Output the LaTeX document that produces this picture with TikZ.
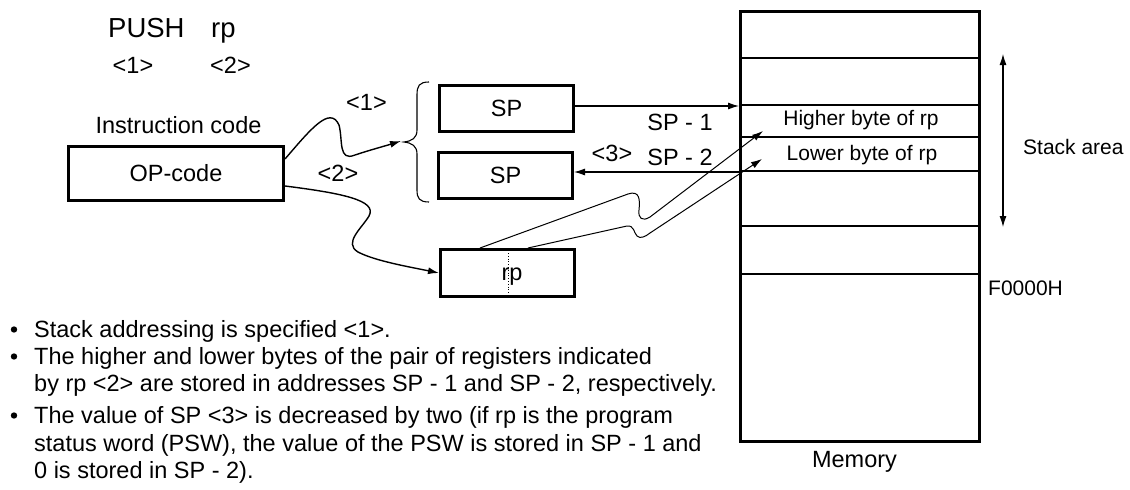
\documentclass[tikz,border=0pt]{standalone}
\usepackage{fontspec}
\setmainfont{Liberation Sans}
\usetikzlibrary{arrows.meta,calc}
\begin{document}
\begin{tikzpicture}[x=1pt,y=-1pt,
  box/.style={draw,line width=3pt,inner sep=0pt,font=\fontsize{23.5}{28}\selectfont},
  lbl/.style={inner sep=0pt,font=\fontsize{23.5}{28}\selectfont},
  big/.style={inner sep=0pt,font=\fontsize{27.5}{32}\selectfont},
  small/.style={inner sep=0pt,font=\fontsize{21}{25}\selectfont},
  btxt/.style={inner sep=0pt,anchor=base west,font=\fontsize{23.5}{28}\selectfont},
  tip/.style={-{Latex[length=11pt,width=7pt]}},
  con/.style={line width=1.1pt,tip},
  wave/.style={line width=1.4pt,tip},
  thinline/.style={line width=1pt,tip},
  cell/.style={line width=1.2pt},
  thickend/.style={line width=2.2pt},
]
\useasboundingbox (0,0) rectangle (1130,490);
\fill[white] (0,0) rectangle (1130,490);

% top texts
\node[big,anchor=base west] (push) at (108,37) {PUSH};
\node[big,anchor=base west] (rptop) at (211,37) {rp};
\node[lbl] (n1) at (133,65) {<1>};
\node[lbl] (n2) at (230.5,65) {<2>};
\node[lbl,anchor=base] (ic) at (178.5,133.5) {Instruction code};

% boxes
\node[box,minimum width=215pt,minimum height=54pt] (op) at (176,173.5) {OP-code};
\node[box,minimum width=134pt,minimum height=46pt] (sp1) at (506.5,108.5) {SP};
\node[box,minimum width=134pt,minimum height=46pt] (sp2) at (505.5,175.5) {SP};
\node[box,minimum width=134pt,minimum height=47pt] (rp) at (507.5,273) {};
\node[lbl] (rptxt) at (512,277) {rp};
\draw[dotted,line width=0.8pt] ($(rp.north)+(0.5,5)$) -- ($(rp.south)+(0.5,-5)$);

% brace
\coordinate (brtip) at (401,141);
\draw[line width=1.1pt] (429,82) .. controls (419,82) and (417,86) .. (417,95) -- (417,130)
  .. controls (417,138) and (412,141) .. (404,142) .. controls (412,143) and (417,146) .. (417,154)
  -- (417,190) .. controls (417,198) and (419,202) .. (429,202);

% labels near arrows
\node[lbl] (a1) at (366.5,102) {<1>};
\node[lbl] (a2) at (338,173) {<2>};
\node[lbl] (a3) at (612,153) {<3>};
\node[lbl] (sm1) at (680,122) {SP - 1};
\node[lbl] (sm2) at (680,157) {SP - 2};

% memory
\node[draw,line width=3pt,minimum width=239pt,minimum height=430pt,inner sep=0pt] (mem) at (860,226.5) {};
\foreach \yy in {58,105,171,226,274}{
  \draw[cell] (mem.west |- 0,\yy) -- (mem.east |- 0,\yy);
}
\draw[line width=2.5pt] (mem.west |- 0,137) -- (mem.east |- 0,137);
\node[small] (hi) at (861,120) {Higher byte of rp};
\node[small] (lo) at (862,155) {Lower byte of rp};
\node[small,anchor=west] (sa) at (1023,147) {Stack area};
\node[small,anchor=west] (f0) at (988,288) {F0000H};
\node[lbl] (memlbl) at (854.5,462) {Memory};
\coordinate (satop) at (1003,54);
\coordinate (sabot) at (1003,227);
\draw[line width=1.1pt,{Latex[length=11pt,width=7pt]}-{Latex[length=11pt,width=7pt]}] (satop) -- (sabot);

% connectors
\draw[wave] ([yshift=14.5pt]op.east) .. controls (310,130) and (330,105) .. (339,125)
  .. controls (343,140) and (338,162) .. (355,155) .. controls (370,150) and (385,146) .. (brtip);
\draw[wave] ([yshift=-12.5pt]op.east) .. controls (340,193) and (378,200) .. (369,216)
  .. controls (362,228) and (343,243) .. (358,252) .. controls (375,261) and (410,267) .. (rp.west);
\coordinate (m1) at ([yshift=2.5pt]sp1.east -| mem.west);
\coordinate (m2) at ([yshift=3.5pt]sp2.east -| mem.west);
\draw[con] ([yshift=2.5pt]sp1.east) -- (m1);
\draw[con] (m2) -- ([yshift=3.5pt]sp2.east);
\draw[thickend] ($(m1)+(-35,0)$) -- ($(m1)+(-8,0)$);
\draw[thickend] ($(m2)+(-37,0)$) -- (m2);

\coordinate (hitip) at (763,131);
\coordinate (lotip) at (762,159);
\draw[thinline] ($(rp.north west)+(41,0)$) -- (628,194) .. controls (640,190) and (640,200) .. (639,210)
  .. controls (638,218) and (642,222) .. (650,217) -- (hitip);
\draw[thinline] ($(rp.north west)+(89,0)$) -- (627,226) .. controls (634,225) and (634,233) .. (637,236)
  .. controls (640,239) and (645,237) .. (650,233) -- (lotip);

% bullets
\foreach \yy in {337,364,423}{ \fill (14,\yy-7.5) circle (3.2pt); }
\node[btxt] (b1) at (34,337) {Stack addressing is specified <1>.};
\node[btxt] (b2) at (34,364) {The higher and lower bytes of the pair of registers indicated};
\node[btxt] (b2b) at (34,391) {by rp <2> are stored in addresses SP - 1 and SP - 2, respectively.};
\node[btxt] (b3) at (34,423) {The value of SP <3> is decreased by two (if rp is the program};
\node[btxt] (b3b) at (34,451) {status word (PSW), the value of the PSW is stored in SP - 1 and};
\node[btxt] (b3c) at (34,478) {0 is stored in SP - 2).};
\end{tikzpicture}
\end{document}
